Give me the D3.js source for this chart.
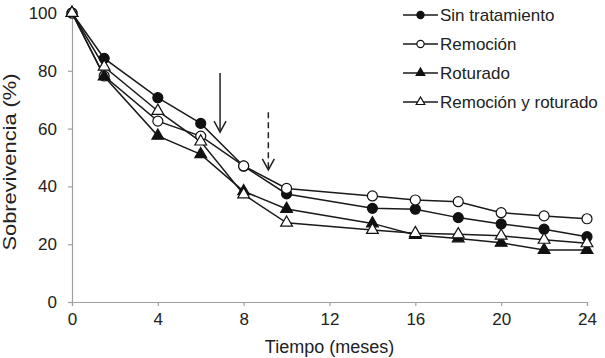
<!DOCTYPE html>
<html>
<head>
<meta charset="utf-8">
<script src="https://cdn.jsdelivr.net/npm/d3@7"></script>
<style>
    body { margin: 0; background: #fff; }
    text { font-family: Arial, "Liberation Sans", sans-serif; fill: #222; }
</style>
</head>
<body>
<svg id="chart" width="605" height="358"></svg>
<script>
// datos
const meses = [0, 1.5, 4, 6, 8, 10, 14, 16, 18, 20, 22, 24];
const sinTratamiento = [100, 84.3, 70.7, 61.8, 47, 37.4, 32.4, 32.1, 29.2, 27.0, 25.2, 22.6];
const remocion = [100, 78.2, 62.6, 57.4, 47.1, 39.3, 36.7, 35.3, 34.7, 30.9, 29.8, 28.8];
const roturado = [100, 78, 57.5, 51.1, 38.3, 32.2, 27.2, 23.2, 22.0, 20.5, 18.0, 18.0];
const remocionRoturado = [100, 81.4, 66.1, 55.5, 37.2, 27.4, 24.9, 23.8, 23.4, 22.9, 21.5, 20.3];

const nombres = ["Sin tratamiento", "Remoción", "Roturado", "Remoción y roturado"];
const xTicks = [0, 4, 8, 12, 16, 20, 24];
const yTicks = [0, 20, 40, 60, 80, 100];

// flechas (sólida y discontinua)
const flechaX = [6.9, 9.15];
const flechaDesde = [79.2, 65.7];
const flechaHasta = [58.8, 45.7];

const series = [
    { name: nombres[0], values: sinTratamiento, shape: "circle", fill: "#111" },
    { name: nombres[1], values: remocion, shape: "circle", fill: "#fff" },
    { name: nombres[2], values: roturado, shape: "triangle", fill: "#111" },
    { name: nombres[3], values: remocionRoturado, shape: "triangle", fill: "#fff" },
];

const svg = d3.select("#chart");
const margin = { top: 13, right: 18, bottom: 56, left: 72 };
const width = 605 - margin.left - margin.right;
const height = 358 - margin.top - margin.bottom;

const x = d3.scaleLinear().domain([0, 24]).range([0, width]);
const y = d3.scaleLinear().domain([0, 100]).range([height, 0]);

const g = svg.append("g").attr("transform", `translate(${margin.left},${margin.top})`);

// ejes
const xAxis = g.append("g")
    .attr("transform", `translate(0,${height})`)
    .call(d3.axisBottom(x).tickValues(xTicks).tickSize(4).tickPadding(7));
const yAxis = g.append("g")
    .call(d3.axisLeft(y).tickValues(yTicks).tickSize(4).tickPadding(11));

[xAxis, yAxis].forEach((a) => {
    a.select(".domain").attr("stroke", "#a0a0a0").attr("stroke-width", 1.2);
    a.selectAll(".tick line").attr("stroke", "#a0a0a0").attr("stroke-width", 1.2);
    a.selectAll(".tick text")
        .style("font-family", "Arial, 'Liberation Sans', sans-serif")
        .style("font-size", "17px")
        .attr("fill", "#222");
});

// títulos
svg.append("text")
    .attr("x", margin.left + width / 2)
    .attr("y", 353)
    .attr("text-anchor", "middle")
    .style("font-size", "18px")
    .text("Tiempo (meses)");

svg.append("text")
    .attr("transform", "translate(15.5,162) rotate(-90) scale(1.18,1)")
    .attr("text-anchor", "middle")
    .style("font-size", "18.5px")
    .text("Sobrevivencia (%)");

// flechas
const flechas = flechaX.map((v, i) => ({ x: v, y0: flechaDesde[i], y1: flechaHasta[i], dashed: i === 1 }));
flechas.forEach((f) => {
    const fx = x(f.x), fy0 = y(f.y0), fy1 = y(f.y1);
    g.append("line")
        .attr("x1", fx).attr("x2", fx)
        .attr("y1", fy0).attr("y2", fy1)
        .attr("stroke", "#222").attr("stroke-width", 1.5)
        .attr("stroke-dasharray", f.dashed ? "6,4" : null);
    g.append("path")
        .attr("d", `M${fx - 6},${fy1 - 11}L${fx},${fy1}L${fx + 6},${fy1 - 11}`)
        .attr("fill", "none").attr("stroke", "#222").attr("stroke-width", 1.5);
});

// líneas y marcadores
const line = d3.line().x((d) => x(d[0])).y((d) => y(d[1]));

function drawMarker(sel, s, big) {
    if (s.shape === "circle") {
        sel.append("circle").attr("r", big ? 5 : 3.6);
    } else {
        sel.append("path").attr("d", d3.symbol(d3.symbolTriangle, big ? 60 : 32)());
    }
    sel.selectAll("circle,path")
        .attr("fill", s.fill)
        .attr("stroke", "#111")
        .attr("stroke-width", 1.2);
}

series.forEach((s) => {
    const pts = meses.map((m, i) => [m, s.values[i]]);
    g.append("path")
        .datum(pts)
        .attr("fill", "none")
        .attr("stroke", "#1a1a1a")
        .attr("stroke-width", 1.5)
        .attr("d", line);
});

series.forEach((s) => {
    const pts = meses.map((m, i) => [m, s.values[i]]);
    g.selectAll(null)
        .data(pts)
        .enter()
        .append("g")
        .attr("transform", (d) => `translate(${x(d[0])},${y(d[1])})`)
        .each(function () { drawMarker(d3.select(this), s, true); });
});

// leyenda
const legend = svg.append("g").attr("transform", "translate(403,15)");
series.forEach((s, i) => {
    const row = legend.append("g").attr("transform", `translate(0,${i * 29})`);
    row.append("line")
        .attr("x1", 0).attr("x2", 35)
        .attr("stroke", "#1a1a1a").attr("stroke-width", 1.5);
    drawMarker(row.append("g").attr("transform", "translate(17.5,0)"), s, false);
    row.append("text")
        .attr("x", 37)
        .attr("y", 6)
        .style("font-size", "17px")
        .text(s.name);
});
</script>
</body>
</html>
